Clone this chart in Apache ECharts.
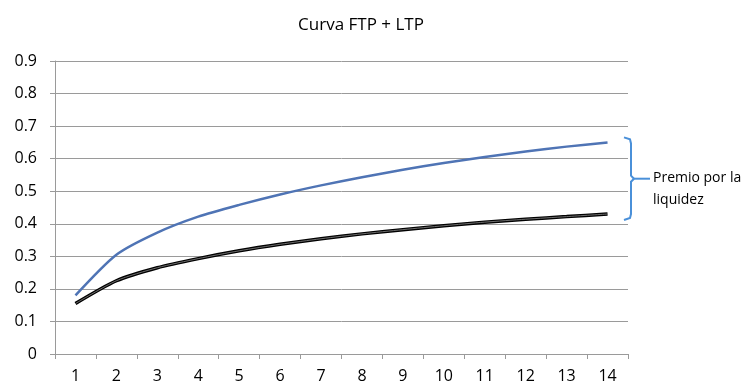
<!DOCTYPE html>
<html><head><meta charset="utf-8">
<script src="https://cdn.jsdelivr.net/npm/echarts@6/dist/echarts.min.js"></script>
<style>html,body{margin:0;padding:0;background:#fff}#c{width:748px;height:387px}</style>
</head><body><div id="c"></div>
<script>
const categories = ['1','2','3','4','5','6','7','8','9','10','11','12','13','14'];
const ftpLtp = [0.18,0.305,0.373,0.422,0.458,0.49,0.518,0.543,0.566,0.587,0.605,0.622,0.637,0.65];
const ftp = [0.155,0.225,0.265,0.293,0.317,0.337,0.354,0.369,0.382,0.394,0.405,0.414,0.422,0.43];
const bracketLabel = 'Premio por la\nliquidez';
const titleText = 'Curva FTP + LTP';

(function(){
const font = '"Open Sans", "Noto Sans", sans-serif';
const chart = echarts.init(document.getElementById('c'), null, {renderer:'canvas'});
chart.setOption({
  animation:false,
  title:{text:titleText,left:356,top:12,textAlign:'center',textStyle:{fontFamily:font,fontSize:17,fontWeight:'normal',color:'#000'}},
  grid:{left:55,right:120,top:61,bottom:33},
  xAxis:{type:'category',data:categories,boundaryGap:true,
    axisLine:{lineStyle:{color:'#9a9a9a'}},
    axisTick:{show:true,length:5,lineStyle:{color:'#9a9a9a'}},
    axisLabel:{fontFamily:font,fontSize:16,color:'#000',margin:14}},
  yAxis:{type:'value',min:0,max:0.9,interval:0.1,
    axisLine:{show:true,lineStyle:{color:'#9a9a9a'}},
    axisTick:{show:true,length:5,lineStyle:{color:'#9a9a9a'}},
    splitLine:{lineStyle:{color:'#9a9a9a'}},
    axisLabel:{fontFamily:font,fontSize:16,color:'#000',margin:18,formatter:v=>v===0?'0':v.toFixed(1)}},
  series:[
    {type:'line',data:ftpLtp,smooth:0.25,showSymbol:false,lineStyle:{color:'#4f74b5',width:2.5}},
    {type:'line',data:ftp,smooth:0.25,showSymbol:false,lineStyle:{color:'#000',width:3.5}},
    {type:'line',data:ftp,smooth:0.25,showSymbol:false,lineStyle:{color:'#8a8a8a',width:0.8}}
  ]
});
const pTop = chart.convertToPixel({gridIndex:0},[13,ftpLtp[13]]);
const pBot = chart.convertToPixel({gridIndex:0},[13,ftp[13]]);
const bx = 628, y1 = pTop[1]-5, y2 = pBot[1]+6, ym = (y1+y2)/2;
chart.setOption({graphic:[
  {type:'polyline',shape:{points:[[bx-4,y1],[bx+2,y1+2],[bx+3,y1+6],[bx+3,ym-3],[bx+6,ym]]},style:{stroke:'#4a90d9',lineWidth:2,fill:null}},
  {type:'polyline',shape:{points:[[bx+6,ym],[bx+3,ym+3],[bx+3,y2-6],[bx+2,y2-2],[bx-4,y2]]},style:{stroke:'#4a90d9',lineWidth:2,fill:null}},
  {type:'line',shape:{x1:bx+6,y1:ym,x2:bx+22,y2:ym},style:{stroke:'#4a90d9',lineWidth:2}},
  {type:'text',x:bx+25,y:ym-12,style:{text:bracketLabel,fontFamily:font,fontSize:14,fill:'#000',lineHeight:22}}
]});
})();
</script></body></html>
